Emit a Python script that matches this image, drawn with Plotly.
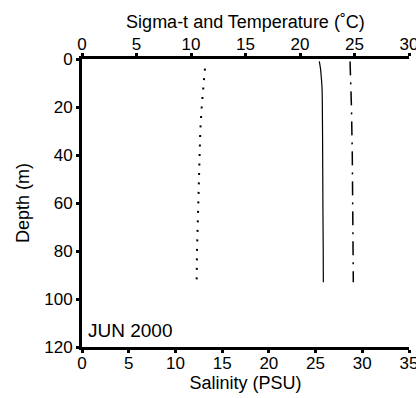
import plotly.graph_objects as go

# Depth profiles (m)
temp_depth = [4, 10, 20, 30, 40, 50, 60, 70, 80, 93]
temperature = [11.28, 11.15, 10.98, 10.85, 10.78, 10.7, 10.65, 10.6, 10.55, 10.52]

sig_depth = [1, 4, 8, 12, 20, 40, 60, 80, 93]
sigma_t = [21.77, 21.88, 21.96, 22.02, 22.05, 22.08, 22.1, 22.13, 22.14]

sal_depth = [1, 4, 8, 12, 20, 40, 60, 80, 93]
salinity = [28.69, 28.72, 28.76, 28.79, 28.84, 28.93, 28.98, 29.02, 29.04]

top_ticks = [0, 5, 10, 15, 20, 25, 30]
bottom_ticks = [0, 5, 10, 15, 20, 25, 30, 35]
depth_ticks = [0, 20, 40, 60, 80, 100, 120]

FONT = "Liberation Sans, Arial, Helvetica, sans-serif"
TICK = 17
TITLE = 18

fig = go.Figure()
fig.add_trace(go.Scatter(x=temperature, y=temp_depth, mode="lines", xaxis="x2", yaxis="y",
                         line=dict(color="black", width=2, dash="2px,7.5px"),
                         name="Temperature", showlegend=False, hoverinfo="skip"))
fig.add_trace(go.Scatter(x=sigma_t, y=sig_depth, mode="lines", xaxis="x2", yaxis="y",
                         line=dict(color="black", width=1.2), line_shape="spline",
                         name="Sigma-t", showlegend=False, hoverinfo="skip"))
fig.add_trace(go.Scatter(x=salinity, y=sal_depth, mode="lines", xaxis="x", yaxis="y",
                         line=dict(color="black", width=1.5, dash="14px,7px,2px,7px"),
                         name="Salinity", showlegend=False, hoverinfo="skip"))

common = dict(showgrid=False, zeroline=False, showline=True, linecolor="black", linewidth=3,
              ticks="outside", ticklen=3, tickwidth=3, tickcolor="black", automargin=False,
              tickfont=dict(size=TICK), ticklabeloverflow="allow")

fig.update_layout(
    width=416, height=398,
    margin=dict(l=82, r=7, t=59, b=51),
    paper_bgcolor="white", plot_bgcolor="white",
    font=dict(family=FONT, size=TICK, color="black"),
    xaxis=dict(range=[0, 35], tickvals=bottom_ticks, ticktext=[str(v) for v in bottom_ticks],
               ticklabelstandoff=-4,
               title=dict(text="Salinity (PSU)", standoff=4, font=dict(size=TITLE)), **common),
    xaxis2=dict(range=[0, 30], tickvals=top_ticks, ticktext=[str(v) for v in top_ticks],
                overlaying="x", side="top", anchor="y", ticklabelstandoff=-4,
                title=dict(text="Sigma-t and Temperature (˚C)", standoff=2, font=dict(size=TITLE)),
                **common),
    yaxis=dict(range=[120, 0], tickvals=depth_ticks, ticktext=[str(v) for v in depth_ticks],
               title=dict(text="Depth (m)", standoff=10, font=dict(size=TITLE)), **common),
    annotations=[dict(text="JUN 2000", x=0.4, y=113, xref="x", yref="y",
                      xanchor="left", yanchor="middle", showarrow=False,
                      font=dict(family=FONT, size=19, color="black"))],
)

# remove the default page margin so the figure fills the window exactly
fig.write_html("out.html",
               config={"displayModeBar": False},
               post_script="document.body.style.margin='0';"
                           "document.documentElement.style.overflow='hidden';")
